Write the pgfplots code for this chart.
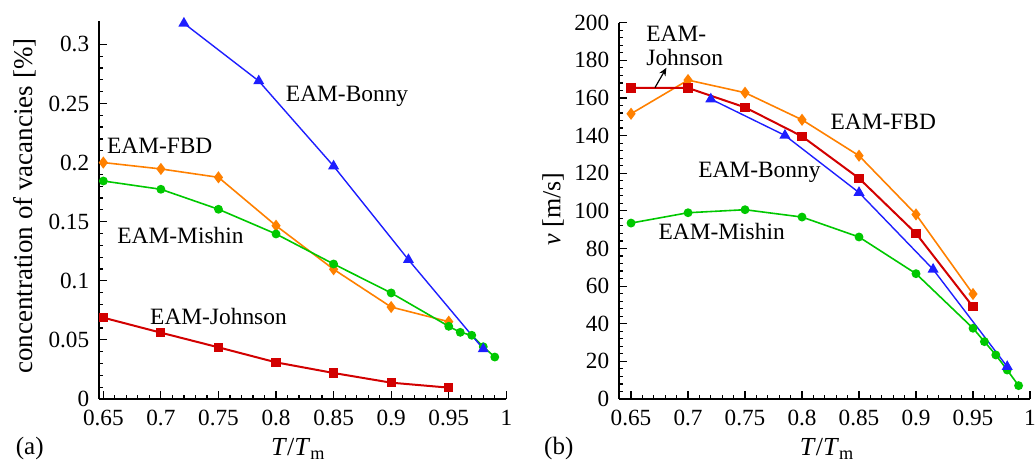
\documentclass[border=0pt]{standalone}
\usepackage{fontspec}
\setmainfont{Liberation Serif}
\usepackage{pgfplots}
\pgfplotsset{compat=1.18}
\usetikzlibrary{arrows.meta}
\definecolor{cOr}{RGB}{255,128,0}
\definecolor{cGr}{RGB}{0,200,0}
\definecolor{cRd}{RGB}{210,0,0}
\definecolor{cBl}{RGB}{30,30,255}
\pgfplotsset{
  myax/.style={
    scale only axis, anchor=south west,
    axis x line*=bottom, axis y line*=left,
    axis line style={line width=1pt},
    tick align=inside,
    major tick length=4pt, minor tick length=2pt,
    every tick/.style={black, line width=0.6pt},
    minor x tick num=4, minor y tick num=4,
    xtick={0.65,0.7,0.75,0.8,0.85,0.9,0.95,1},
    xticklabels={0.65,0.7,0.75,0.8,0.85,0.9,0.95,1},
    /pgf/number format/assume math mode=true,
    tick label style={font=\fontsize{11.6}{14}\selectfont, inner sep=0.5pt},
    xticklabel style={yshift=-5pt},
    yticklabel style={xshift=-4.4pt},
    label style={font=\fontsize{13}{15}\selectfont},
    clip=false,
  },
  jo/.style={color=cRd, line width=1pt, mark=square*, mark size=1.8pt},
  fb/.style={color=cOr, line width=0.8pt, mark=diamond*, mark size=2.4pt},
  mi/.style={color=cGr, line width=0.8pt, mark=*, mark size=1.8pt},
  bo/.style={color=cBl, line width=0.7pt, mark=triangle*, mark size=2.5pt},
}
\newcommand{\ann}{\fontsize{11.7}{12}\selectfont}
\begin{document}
\begin{tikzpicture}
\useasboundingbox (0,0) rectangle (517.5pt,232.5pt);
% ---------------- (a)
\begin{axis}[myax,
  at={(49.65pt,33pt)}, width=203.5pt, height=189.15pt,
  xmin=0.6465, xmax=1, ymin=0, ymax=0.32,
  ytick={0,0.05,0.1,0.15,0.2,0.25,0.3},
  yticklabels={0,0.05,0.1,0.15,0.2,0.25,0.3},
  xlabel={\textit{T}/\textit{T}\textsubscript{m}},
  xlabel style={at={(axis description cs:0.489,-0.132)}, anchor=center},
  ylabel={concentration of vacancies [\%]},
  ylabel style={at={(axis description cs:-0.182,0.51)}, anchor=center, font=\fontsize{13.5}{15}\selectfont},
]
\addplot[fb] coordinates {(0.65,0.200) (0.7,0.1946) (0.75,0.1875) (0.8,0.1466) (0.85,0.1097) (0.9,0.0778) (0.95,0.0654)};
\addplot[mi] coordinates {(0.65,0.1844) (0.7,0.1774) (0.75,0.1605) (0.8,0.1396) (0.85,0.1142) (0.9,0.0897) (0.95,0.0615) (0.96,0.0564) (0.97,0.0539) (0.98,0.0442) (0.99,0.0355)};
\addplot[jo] coordinates {(0.65,0.0688) (0.7,0.0561) (0.75,0.0437) (0.8,0.0310) (0.85,0.0220) (0.9,0.0138) (0.95,0.0096)};
\addplot[bo] coordinates {(0.72,0.3178) (0.785,0.269) (0.85,0.197) (0.915,0.1178) (0.98,0.0423)};
\node[font=\ann] at (axis cs:0.8617,0.2557) {EAM-Bonny};
\node[font=\ann] at (axis cs:0.699,0.214) {EAM-FBD};
\node[font=\ann] at (axis cs:0.717,0.1387) {EAM-Mishin};
\node[font=\ann] at (axis cs:0.750,0.0696) {EAM-Johnson};
\end{axis}
% ---------------- (b)
\begin{axis}[myax,
  at={(309.65pt,33pt)}, width=205.35pt, height=188.15pt,
  xmin=0.6397, xmax=1, ymin=0, ymax=200,
  ytick={0,20,40,60,80,100,120,140,160,180,200},
  xlabel={\textit{T}/\textit{T}\textsubscript{m}},
  xlabel style={at={(axis description cs:0.506,-0.133)}, anchor=center},
  ylabel={\textit{v} [m/s]},
  ylabel style={at={(axis description cs:-0.161,0.505)}, anchor=center},
]
\addplot[fb] coordinates {(0.65,151.6) (0.7,169.5) (0.75,162.8) (0.8,148.4) (0.85,129.3) (0.9,98.1) (0.95,55.8)};
\addplot[mi] coordinates {(0.65,93.5) (0.7,99.0) (0.75,100.6) (0.8,96.7) (0.85,86.1) (0.9,66.6) (0.95,37.6) (0.96,30.5) (0.97,23.4) (0.98,15.4) (0.99,7.1)};
\addplot[jo] coordinates {(0.65,165.3) (0.7,165.3) (0.75,155.0) (0.8,139.6) (0.85,117.3) (0.9,88.0) (0.95,49.0)};
\addplot[bo] coordinates {(0.72,159.4) (0.785,140.1) (0.85,109.7) (0.915,68.9) (0.98,17.2)};
\node[font=\ann, align=left, anchor=west] at (axis cs:0.6573,187.8) {EAM-\\Johnson};
\node[font=\ann] at (axis cs:0.8713,147.4) {EAM-FBD};
\node[font=\ann] at (axis cs:0.7626,120.3) {EAM-Bonny};
\node[font=\ann] at (axis cs:0.7295,88.9) {EAM-Mishin};
\draw[-{Stealth[length=4pt,width=3.5pt]}, line width=0.6pt] (axis cs:0.671,165.5) -- (axis cs:0.681,176);
\end{axis}
\node[font=\fontsize{12.5}{14}\selectfont] at (14.85pt,8.5pt) {(a)};
\node[font=\fontsize{12.5}{14}\selectfont] at (279.4pt,8.5pt) {(b)};
\end{tikzpicture}
\end{document}
